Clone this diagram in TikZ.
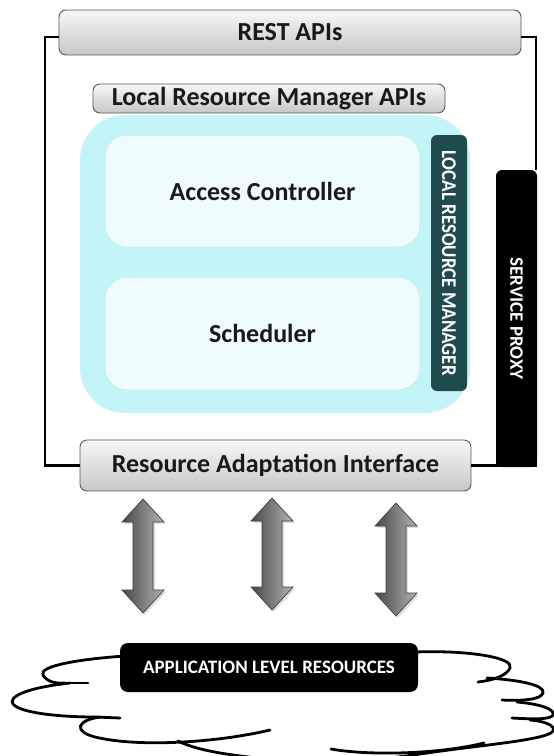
\documentclass[tikz,border=0pt]{standalone}
\usepackage{fontspec}
\setmainfont{Carlito}
\usetikzlibrary{shadows,calc}
\definecolor{cyanbg}{HTML}{C3F4F7}
\definecolor{innerbox}{HTML}{EEFCFD}
\definecolor{innerdraw}{HTML}{CDEEF0}
\definecolor{tealdark}{HTML}{1F4B4D}
\newcommand\dbarrow[3]{\shadedraw[blockarrow] (#1,#2) -- ++(21,23) -- ++(-11,0) -- (#1+10,#3-23) -- ++(11,0) -- (#1,#3) -- ++(-21,-23) -- ++(11,0) -- (#1-10,#2+23) -- ++(-11,0) -- cycle;}
\begin{document}
\begin{tikzpicture}[x=1pt,y=-1pt,
  graybox/.style={draw=black!65, line width=0.9pt, rounded corners=7pt, top color=black!3, bottom color=black!22, font=\bfseries\fontsize{26}{30}\selectfont, inner sep=0pt, text=black!90},
  innerbx/.style={draw=innerdraw, line width=1pt, fill=innerbox, rounded corners=22pt, font=\bfseries\fontsize{26}{30}\selectfont, inner sep=0pt, text=black!90},
  frame/.style={draw=black, line width=2.6pt},
  blockarrow/.style={left color=black!72, right color=black!30, draw=black!75, line width=0.7pt, drop shadow={opacity=0.25, shadow xshift=2pt, shadow yshift=-2pt}},
  cloudline/.style={draw=black, line width=2.8pt, line cap=round}]
\useasboundingbox (0,0) rectangle (554,756);
\fill[white] (0,0) rectangle (554,756);

% cyan region
\node[fill=cyanbg, rounded corners=45pt, minimum width=390pt, minimum height=298pt, inner sep=0pt] (lrmarea) at (275,264) {};

% inner boxes
\node[innerbx, minimum width=315pt, minimum height=112pt] (ac) at (262.5,191) {Access Controller};
\node[innerbx, minimum width=315pt, minimum height=113pt] (sch) at (262.5,333.5) {Scheduler};

% local resource manager bar
\node[fill=tealdark, rounded corners=6pt, minimum width=36pt, minimum height=256pt, inner sep=0pt] (lrm) at (449,263) {};
\node[rotate=-90, text=white, font=\bfseries\fontsize{21}{24}\selectfont, inner sep=0pt] (lrmtext) at (lrm.center) {\scalebox{0.9}[1]{LOCAL RESOURCE MANAGER}};

% service proxy
\node[fill=black, rounded corners=6pt, minimum width=41pt, minimum height=297pt, inner sep=0pt] (sp) at (516.5,318.5) {};
\fill[black] (496,400) rectangle (537,467);
\node[rotate=-90, text=white, font=\bfseries\fontsize{19}{22}\selectfont, inner sep=0pt] (sptext) at (sp.center) {SERVICE PROXY};

% API boxes
\node[graybox, minimum width=462pt, minimum height=45pt] (rest) at (290,32.5) {REST APIs};
\node[graybox, minimum width=352pt, minimum height=29pt] (lrmapi) at (269,98.5) {Local Resource Manager APIs};
\node[graybox, minimum width=391pt, minimum height=51pt] (rai) at (275.5,465.5) {Resource Adaptation Interface};

% frame
\coordinate (fl) at (45,37);
\coordinate (fr) at (536,37);
\draw[frame] (rest.west |- fl) -- (fl) |- (rai.west);
\draw[frame] (rest.east |- fr) -- (fr) -- (fr |- sp.north);
\draw[frame] (rai.east) -- (rai.east -| sp.west);

% arrows
\dbarrow{143}{499}{613}
\dbarrow{272}{498}{610}
\dbarrow{396}{503}{616}

% cloud
\draw[cloudline] (125,656) .. controls (80,659) and (38,666) .. (43,675) .. controls (46,681) and (55,684) .. (65,683);
\draw[cloudline] (65,683) -- (88,683);
\draw[cloudline] (70,683) .. controls (25,688) and (8,697) .. (13,704) .. controls (20,713) and (60,717) .. (95,717);
\draw[cloudline] (95,717) -- (120,718);
\draw[cloudline] (100,717) .. controls (78,720) and (72,731) .. (95,737) .. controls (140,748) and (220,742) .. (270,730);
\draw[cloudline] (178,741) .. controls (200,752) and (240,757) .. (300,762);
\draw[cloudline] (415,652) .. controls (470,650) and (515,658) .. (510,668) .. controls (507,675) and (495,680) .. (478,682);
\draw[cloudline] (487,678) .. controls (520,680) and (545,685) .. (543,693) .. controls (541,700) and (520,701) .. (502,700);
\draw[cloudline] (517,702) .. controls (540,704) and (555,709) .. (553,715) .. controls (551,720) and (530,719) .. (512,718);
\draw[cloudline] (530,720) .. controls (545,721) and (556,726) .. (553,731) .. controls (548,740) and (480,745) .. (420,754) .. controls (400,757) and (380,759) .. (360,762);
\draw[cloudline] (331,749) .. controls (370,756) and (440,754) .. (484,743);

% application level resources
\node[fill=black, rounded corners=8pt, minimum width=298pt, minimum height=49pt, inner sep=0pt, text=white, font=\bfseries\fontsize{19}{22}\selectfont] (alr) at (269,667.5) {APPLICATION LEVEL RESOURCES};
\end{tikzpicture}
\end{document}
